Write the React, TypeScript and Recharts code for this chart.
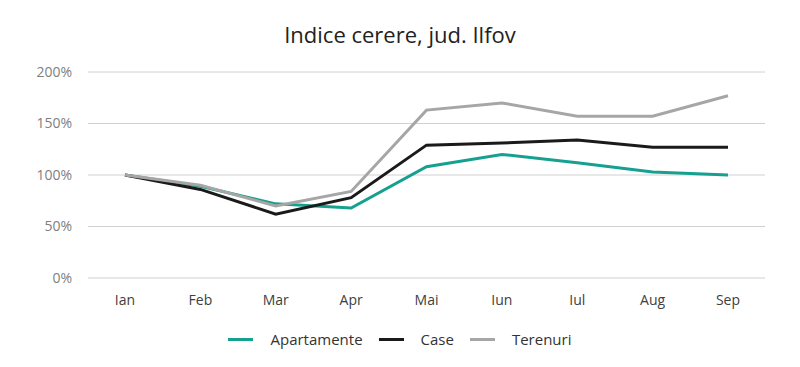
import { LineChart, Line, XAxis, YAxis, CartesianGrid, Legend } from "recharts";

const months = ["Ian", "Feb", "Mar", "Apr", "Mai", "Iun", "Iul", "Aug", "Sep"];
const apartamente = [100, 89, 72, 68, 108, 120, 112, 103, 100];
const caseValues = [100, 86, 62, 78, 129, 131, 134, 127, 127];
const terenuri = [100, 90, 70, 84, 163, 170, 157, 157, 177];
const yTicks = [0, 50, 100, 150, 200];

const data = months.map((m, i) => ({
  month: m,
  Apartamente: apartamente[i],
  Case: caseValues[i],
  Terenuri: terenuri[i],
}));

const font = "'Open Sans', sans-serif";

function LegendContent(props: any) {
  const items = props.payload || [];
  return (
    <div style={{ display: "flex", justifyContent: "center", alignItems: "center", height: 40, fontFamily: font, fontSize: 15, color: "#333" }}>
      {items.map((it: any) => (
        <div key={it.value} style={{ display: "flex", alignItems: "center", margin: "0 8px" }}>
          <span style={{ display: "inline-block", width: 25, height: 3, background: it.color, marginRight: 17 }} />
          <span>{it.value}</span>
        </div>
      ))}
    </div>
  );
}

export default function App() {
  return (
    <div style={{ position: "absolute", left: 0, top: 0, width: 800, height: 367, background: "#fff" }}>
      <div style={{ position: "absolute", left: 0, top: 19, width: 800, textAlign: "center", fontFamily: font, fontSize: 22, color: "#222" }}>
        Indice cerere, jud. Ilfov
      </div>
      <LineChart width={800} height={367} data={data} margin={{ top: 72, right: 35, bottom: 8, left: 0 }}>
        <CartesianGrid vertical={false} stroke="#d0d0d0" strokeWidth={1} />
        <XAxis dataKey="month" axisLine={false} tickLine={false} tickSize={0} tickMargin={17} height={41}
          padding={{ left: 37, right: 37 }} tick={{ fill: "#404040", fontSize: 14, fontFamily: font }} />
        <YAxis domain={[0, 200]} ticks={yTicks} tickFormatter={(v: number) => `${v}%`} axisLine={false} tickLine={false}
          tickSize={0} tickMargin={16} width={88} tick={{ fill: "#808080", fontSize: 14, fontFamily: font }} />
        <Legend verticalAlign="bottom" height={40} width={800} wrapperStyle={{ left: 0, width: 800 }} content={<LegendContent />} />
        <Line type="linear" dataKey="Apartamente" stroke="#16a090" strokeWidth={3} dot={false} isAnimationActive={false} />
        <Line type="linear" dataKey="Case" stroke="#1a1a1a" strokeWidth={3} dot={false} isAnimationActive={false} />
        <Line type="linear" dataKey="Terenuri" stroke="#a6a6a6" strokeWidth={3} dot={false} isAnimationActive={false} />
      </LineChart>
    </div>
  );
}
